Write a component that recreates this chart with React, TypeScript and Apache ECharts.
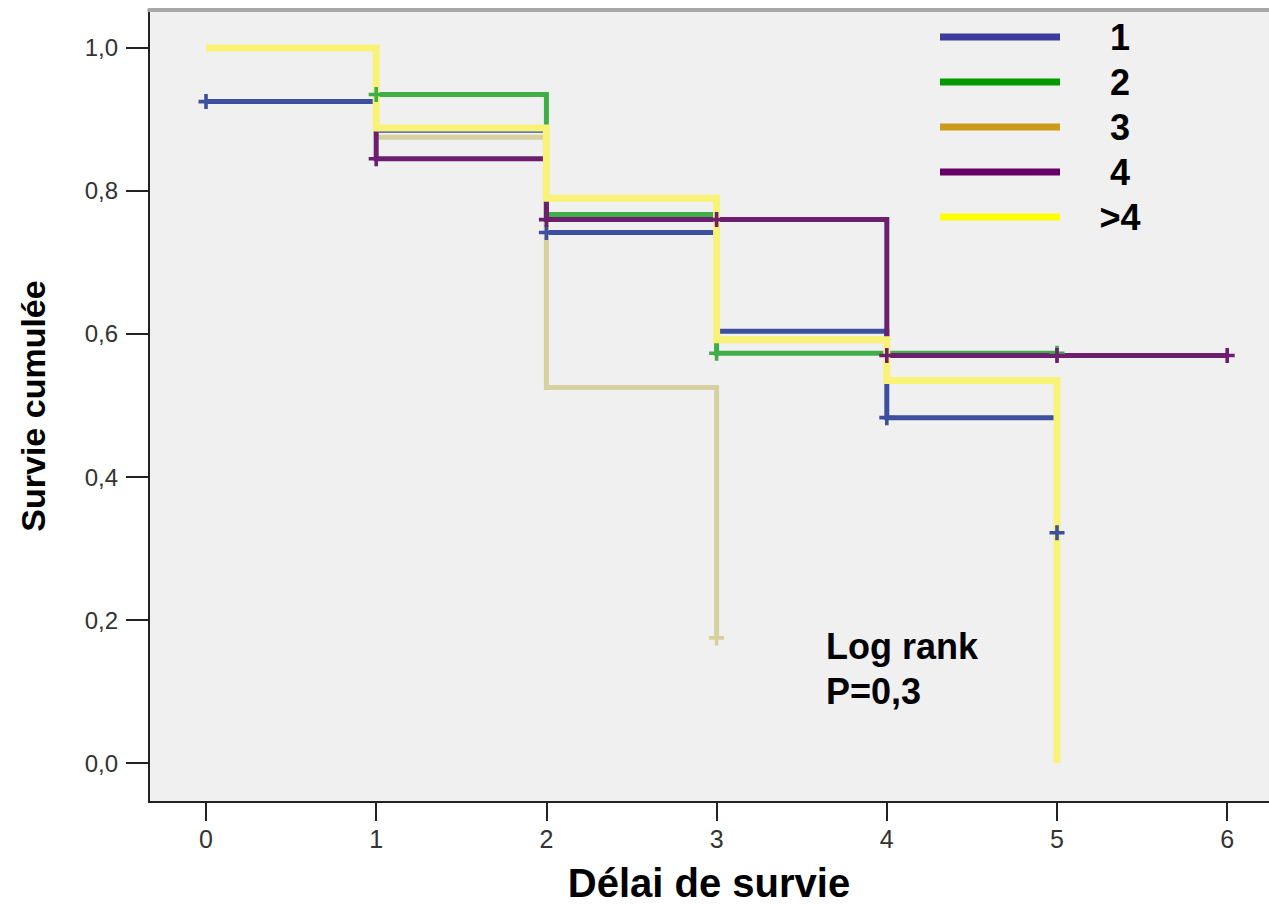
import React, { useEffect, useRef } from "react";
import * as echarts from "echarts";

// Kaplan-Meier step points [time, cumulative survival]
const group1 = [[0, 0.925], [1, 0.885], [2, 0.742], [3, 0.604], [4, 0.483], [5, 0.322]];
const group2 = [[0, 1.0], [1, 0.935], [2, 0.767], [3, 0.573], [4, 0.573], [5, 0.573]];
const group3 = [[0, 1.0], [1, 0.875], [2, 0.525], [3, 0.175]];
const group4 = [[0, 1.0], [1, 0.845], [2, 0.76], [3, 0.76], [4, 0.57], [5, 0.57], [6, 0.57]];
const group5 = [[0, 1.0], [1, 0.888], [2, 0.79], [3, 0.592], [4, 0.535], [5, 0.0]];

// censored observations
const censor1 = [[0, 0.925], [2, 0.742], [4, 0.483], [5, 0.322]];
const censor2 = [[1, 0.935], [3, 0.573], [5, 0.573]];
const censor3 = [[3, 0.175]];
const censor4 = [[1, 0.845], [2, 0.76], [3, 0.76], [4, 0.57], [5, 0.57], [6, 0.57]];

const groupNames = ["1", "2", "3", "4", ">4"];
const xTicks = [0, 1, 2, 3, 4, 5, 6];
const yTicks = [0, 0.2, 0.4, 0.6, 0.8, 1.0];

const lineColors = ["#3d4f9f", "#3fae48", "#d6d19f", "#6c1f6e", "#f8f376"];
const legendColors = ["#3a3d9b", "#009a00", "#cc9a1a", "#660066", "#ffff00"];

const PLUS = "path://M-7.5,-1.8H7.5V1.8H-7.5Z M-1.8,-7.5H1.8V7.5H-1.8Z";

export default function App() {
  const ref = useRef<HTMLDivElement>(null);
  useEffect(() => {
    if (!ref.current) return;
    const chart = echarts.init(ref.current, null, { renderer: "svg" });
    const groups = [group1, group2, group3, group4, group5];
    const censors = [censor1, censor2, censor3, censor4];
    // drawing order bottom->top: 1, 3, 2, 4, >4
    const order = [0, 2, 1, 3, 4];
    const lineSeries = order.map((i) => ({
      name: groupNames[i],
      type: "line",
      step: "end",
      data: groups[i],
      showSymbol: false,
      symbol: "none",
      silent: true,
      z: 2 + order.indexOf(i) * 0.01,
      lineStyle: { color: lineColors[i], width: i === 4 ? 7 : 5, cap: "butt", join: "miter" },
      itemStyle: { color: lineColors[i] },
    }));
    const censorSeries = censors.map((c, i) => ({
      name: groupNames[i] + " censuré",
      type: "scatter",
      data: c,
      symbol: PLUS,
      symbolSize: 15,
      silent: true,
      z: 5,
      itemStyle: { color: lineColors[i], opacity: 1 },
    }));
    const fmt = (v: number) => v.toFixed(1).replace(".", ",");
    chart.setOption({
      animation: false,
      backgroundColor: "#ffffff",
      textStyle: { fontFamily: "Liberation Sans, Arial, sans-serif" },
      grid: {
        left: 149,
        top: 10,
        right: 0,
        bottom: 104,
        outerBoundsMode: "none",
        containLabel: false,
        show: true,
        backgroundColor: "#f0f0f0",
        borderWidth: 0,
      },
      legend: {
        left: 940,
        top: 19,
        padding: 0,
        orient: "vertical",
        icon: "rect",
        itemWidth: 120,
        itemHeight: 7,
        itemGap: 9,
        selectedMode: false,
        data: groupNames.map((n, i) => ({ name: n, itemStyle: { color: legendColors[i] } })),
        formatter: (n: string) => "{c|" + n + "}",
        textStyle: {
          color: "#000",
          fontWeight: "bold",
          fontSize: 36,
          lineHeight: 36,
          rich: {
            c: { width: 110, align: "center", fontSize: 36, fontWeight: "bold", color: "#000", lineHeight: 36 },
          },
        },
      },
      xAxis: [
        {
          type: "value",
          min: -0.3349,
          max: 6.2456,
          position: "bottom",
          name: "Délai de survie",
          nameLocation: "middle",
          nameGap: 61,
          nameTextStyle: { fontSize: 40, lineHeight: 40, fontWeight: "bold", color: "#000" },
          splitLine: { show: false },
          axisLine: { show: true, onZero: false, lineStyle: { color: "#222", width: 2 } },
          axisTick: { show: true, customValues: xTicks, length: 19, lineStyle: { color: "#222", width: 2 } },
          axisLabel: { customValues: xTicks, margin: 24, fontSize: 25, color: "#333" },
        },
        {
          type: "value",
          min: -0.3349,
          max: 6.2456,
          position: "top",
          splitLine: { show: false },
          axisLine: { show: true, onZero: false, lineStyle: { color: "#a8a8a8", width: 4 } },
          axisTick: { show: false },
          axisLabel: { show: false },
        },
      ],
      yAxis: {
        type: "value",
        min: -0.0545,
        max: 1.0531,
        name: "Survie cumulée",
        nameLocation: "middle",
        nameGap: 99,
        nameTextStyle: { fontSize: 34, fontWeight: "bold", color: "#000" },
        splitLine: { show: false },
        axisLine: { show: true, onZero: false, lineStyle: { color: "#222", width: 2 } },
        axisTick: { show: true, customValues: yTicks, length: 23, lineStyle: { color: "#222", width: 2 } },
        axisLabel: { customValues: yTicks, margin: 31, fontSize: 24, color: "#333", formatter: fmt },
      },
      graphic: [
        {
          type: "text",
          left: 826,
          top: 624,
          z: 10,
          style: {
            text: "Log rank\nP=0,3",
            fontSize: 36,
            fontWeight: "bold",
            lineHeight: 45,
            fill: "#000",
            fontFamily: "Liberation Sans, Arial, sans-serif",
          },
        },
      ],
      series: [...lineSeries, ...censorSeries],
    });
    return () => chart.dispose();
  }, []);
  return (
    <div
      ref={ref}
      style={{ position: "fixed", left: 0, top: 0, width: 1269, height: 906, background: "#fff" }}
    />
  );
}
